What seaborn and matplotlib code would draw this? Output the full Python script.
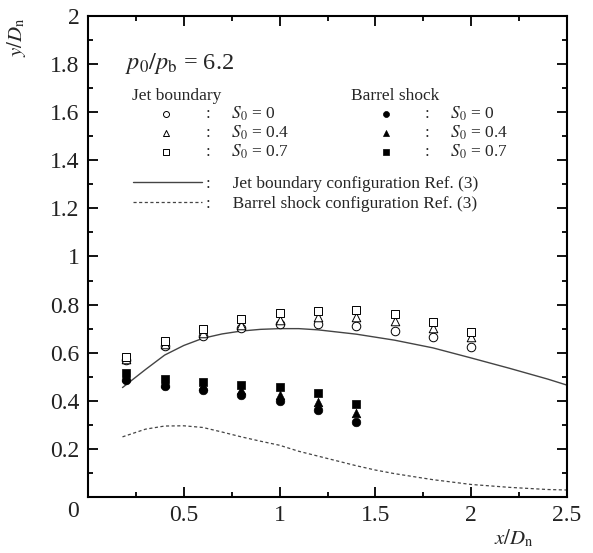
import seaborn as sns
import matplotlib.pyplot as plt
from matplotlib.ticker import MultipleLocator

# measured points, jet boundary and barrel shock
x_jet = [0.2, 0.4, 0.6, 0.8, 1.0, 1.2, 1.4, 1.6, 1.8, 2.0]
jb_s0 = [0.571, 0.629, 0.668, 0.703, 0.720, 0.720, 0.710, 0.689, 0.665, 0.622]
jb_s04 = [0.575, 0.635, 0.680, 0.715, 0.737, 0.749, 0.749, 0.730, 0.703, 0.665]
jb_s07 = [0.582, 0.650, 0.700, 0.740, 0.765, 0.772, 0.779, 0.761, 0.728, 0.686]

x_bs = [0.2, 0.4, 0.6, 0.8, 1.0, 1.2, 1.4]
bs_s0 = [0.485, 0.463, 0.446, 0.422, 0.400, 0.362, 0.310]
bs_s04 = [0.500, 0.475, 0.460, 0.445, 0.425, 0.397, 0.351]
bs_s07 = [0.515, 0.492, 0.478, 0.467, 0.457, 0.432, 0.387]

# Ref. (3) curves
jet_curve_x = [0.18, 0.3, 0.4, 0.5, 0.6, 0.7, 0.8, 0.9, 1.0, 1.1, 1.2, 1.4, 1.6, 1.8, 2.0, 2.2, 2.4, 2.5]
jet_curve_y = [0.455, 0.53, 0.59, 0.63, 0.66, 0.678, 0.69, 0.697, 0.70, 0.70, 0.695, 0.677, 0.652, 0.62, 0.578, 0.535, 0.49, 0.465]
bs_curve_x = [0.18, 0.3, 0.4, 0.5, 0.6, 0.7, 0.8, 0.9, 1.0, 1.1, 1.2, 1.3, 1.4, 1.5, 1.6, 1.8, 2.0, 2.2, 2.4, 2.5]
bs_curve_y = [0.25, 0.282, 0.295, 0.296, 0.289, 0.27, 0.25, 0.232, 0.215, 0.19, 0.17, 0.15, 0.13, 0.112, 0.097, 0.072, 0.052, 0.04, 0.031, 0.029]

s0_labels = ['0', '0.4', '0.7']

sns.set_style('ticks')
plt.rcParams['font.family'] = ['Liberation Serif', 'DejaVu Serif']
plt.rcParams['mathtext.fontset'] = 'stix'

fig = plt.figure(figsize=(5.93, 5.53), dpi=100)
ax = fig.add_axes([0.1484, 0.1013, 0.8078, 0.8698])

markers = ['o', '^', 's']
jet_handles = []
for ys, m in zip([jb_s0, jb_s04, jb_s07], markers):
    sns.scatterplot(x=x_jet, y=ys, marker=m, s=38, facecolor='white',
                    edgecolor='black', linewidth=0.7, ax=ax, zorder=3)
    jet_handles.append(ax.collections[-1])
bs_handles = []
for ys, m in zip([bs_s0, bs_s04, bs_s07], markers):
    sns.scatterplot(x=x_bs, y=ys, marker=m, s=38, color='black',
                    edgecolor='black', linewidth=0.5, ax=ax, zorder=3)
    bs_handles.append(ax.collections[-1])

sns.lineplot(x=jet_curve_x, y=jet_curve_y, color='#444444', linewidth=1.0, ax=ax)
line_jet = ax.lines[-1]
sns.lineplot(x=bs_curve_x, y=bs_curve_y, color='#444444', linewidth=0.9, ax=ax)
line_bs = ax.lines[-1]
line_bs.set_linestyle((0, (2.5, 2)))

ax.set_xlim(0, 2.5)
ax.set_ylim(0, 2)
ax.xaxis.set_major_locator(MultipleLocator(0.5))
ax.xaxis.set_minor_locator(MultipleLocator(0.25))
ax.yaxis.set_major_locator(MultipleLocator(0.2))
ax.yaxis.set_minor_locator(MultipleLocator(0.1))
ax.set_xticks([0, 0.5, 1, 1.5, 2, 2.5], ['', '0.5', '1', '1.5', '2', '2.5'])
ax.set_yticks([0.2, 0.4, 0.6, 0.8, 1, 1.2, 1.4, 1.6, 1.8, 2],
              ['0.2', '0.4', '0.6', '0.8', '1', '1.2', '1.4', '1.6', '1.8', '2'])
ax.tick_params(which='both', direction='in', top=True, right=True,
               labelsize=17, width=1.3, colors='black', labelcolor='#222222')
ax.tick_params(which='major', length=7, pad=6)
ax.tick_params(which='minor', length=3.5)
for sp in ax.spines.values():
    sp.set_linewidth(1.5)
    sp.set_color('black')
ax.text(-0.031, -0.031, '0', transform=ax.transAxes, fontsize=17,
        ha='center', va='center', color='#222222')

ax.set_xlabel('$x/D_\\mathrm{n}$', fontsize=15)
ax.xaxis.set_label_coords(0.89, -0.064)
ax.set_ylabel('$y/D_\\mathrm{n}$', fontsize=15)
ax.yaxis.set_label_coords(-0.125, 0.955)

ax.text(0.077, 0.902, '$p_0/p_\\mathrm{b}$ = 6.2', transform=ax.transAxes,
        fontsize=17.5, va='center', ha='left')

lab = [':     $S_0$ = %s' % s for s in s0_labels]
common = dict(frameon=False, loc='upper left', borderpad=0, borderaxespad=0,
              handlelength=4.0, handletextpad=0.2,
              fontsize=12.5, markerscale=0.7, title_fontsize=12.5, alignment='left')
leg1 = ax.legend(jet_handles, lab, title='Jet boundary', labelspacing=0.05,
                 bbox_to_anchor=(0.091, 0.851), **common)
ax.add_artist(leg1)
leg2 = ax.legend(bs_handles, lab, title='Barrel shock', labelspacing=0.05,
                 bbox_to_anchor=(0.55, 0.851), **common)
ax.add_artist(leg2)
leg3 = ax.legend([line_jet, line_bs],
                 [':     Jet boundary configuration Ref. (3)',
                  ':     Barrel shock configuration Ref. (3)'],
                 labelspacing=0.22, bbox_to_anchor=(0.094, 0.668), **common)

fig.savefig('out.png', dpi=100)
